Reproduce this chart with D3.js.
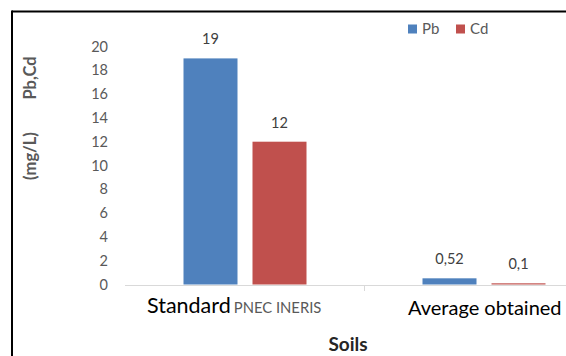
<!DOCTYPE html>
<html><head><meta charset="utf-8">
<script src="https://cdn.jsdelivr.net/npm/d3@7"></script>
<style>body{margin:0;background:#fff}svg{display:block}text{font-family:Lato,"Open Sans",sans-serif}</style>
</head><body>
<svg id="c" width="566" height="356"></svg>
<script>
const categories = ["Standard", "Average obtained"];
const categorySubs = ["PNEC INERIS", ""];
const seriesNames = ["Pb", "Cd"];
const pbValues = [19, 0.52];
const cdValues = [12, 0.1];
const valueLabels = [["19", "0,52"], ["12", "0,1"]];
const yTicks = [0, 2, 4, 6, 8, 10, 12, 14, 16, 18, 20];
const colors = ["#4F81BD", "#C0504D"];

const svg = d3.select("#c");
// frame
svg.append("line").attr("x1",12).attr("x2",566).attr("y1",11.5).attr("y2",11.5).attr("stroke","#000").attr("stroke-width",2);
svg.append("line").attr("x1",12).attr("x2",12).attr("y1",10.5).attr("y2",356).attr("stroke","#000").attr("stroke-width",2);

const y = d3.scaleLinear().domain([0,20]).range([284.5,46.5]);
const x0 = d3.scaleBand().domain(categories).range([125,603]).paddingInner(0).paddingOuter(0);
const x1 = d3.scaleBand().domain(seriesNames).range([58.5,181.5]).paddingInner(15/69).paddingOuter(0);

// y tick labels
svg.append("g").selectAll("text").data(yTicks).join("text")
  .attr("x",108).attr("y",d=>y(d)).attr("dy","0.35em").attr("text-anchor","end")
  .attr("fill","#595959").attr("font-size",14.5).text(d=>d);

// bars
const series = [pbValues, cdValues];
series.forEach((vals,si)=>{
  svg.append("g").selectAll("rect").data(categories).join("rect")
    .attr("x",(c)=>x0(c)+x1(seriesNames[si]))
    .attr("width",x1.bandwidth())
    .attr("y",(c,i)=>y(vals[i]))
    .attr("height",(c,i)=>y(0)-y(vals[i]))
    .attr("fill",colors[si]);
  svg.append("g").selectAll("text").data(categories).join("text")
    .attr("x",(c)=>x0(c)+x1(seriesNames[si])+x1.bandwidth()/2)
    .attr("y",(c,i)=>y(vals[i])-14)
    .attr("text-anchor","middle").attr("fill","#404040").attr("font-size",14.5)
    .text((c,i)=>valueLabels[si][i]);
});

// x axis
svg.append("line").attr("x1",125).attr("x2",566).attr("y1",285.5).attr("y2",285.5).attr("stroke","#d9d9d9");
svg.append("line").attr("x1",364.5).attr("x2",364.5).attr("y1",285).attr("y2",291).attr("stroke","#d9d9d9");

// category labels
const cl = svg.append("g");
const t0 = cl.append("text").attr("x",147).attr("y",313).attr("fill","#000").attr("font-size",21.5);
t0.append("tspan").text(categories[0]);
t0.append("tspan").attr("font-size",14.8).attr("fill","#595959").attr("dx",3).text(categorySubs[0]);
cl.append("text").attr("x",408).attr("y",315).attr("fill","#000").attr("font-size",20).text(categories[1]);

// axis titles
svg.append("text").attr("x",348).attr("y",351).attr("text-anchor","middle").attr("font-weight","bold").attr("font-size",19).attr("fill","#262626").text("Soils");
svg.append("text").attr("transform","translate(36,78) rotate(-90)").attr("text-anchor","middle").attr("font-weight","bold").attr("font-size",16.5).attr("fill","#595959").text("Pb,Cd");
svg.append("text").attr("transform","translate(36,156) rotate(-90)").attr("text-anchor","middle").attr("font-weight","bold").attr("font-size",16.5).attr("fill","#595959").text("(mg/L)");

// legend
const lg = svg.append("g");
const lx = [408, 456];
seriesNames.forEach((s,i)=>{
  lg.append("rect").attr("x",lx[i]).attr("y",24.5).attr("width",9).attr("height",9).attr("fill",colors[i]);
  lg.append("text").attr("x",lx[i]+14).attr("y",29).attr("dy","0.35em").attr("fill","#595959").attr("font-size",15).text(s);
});
</script>
</body></html>
